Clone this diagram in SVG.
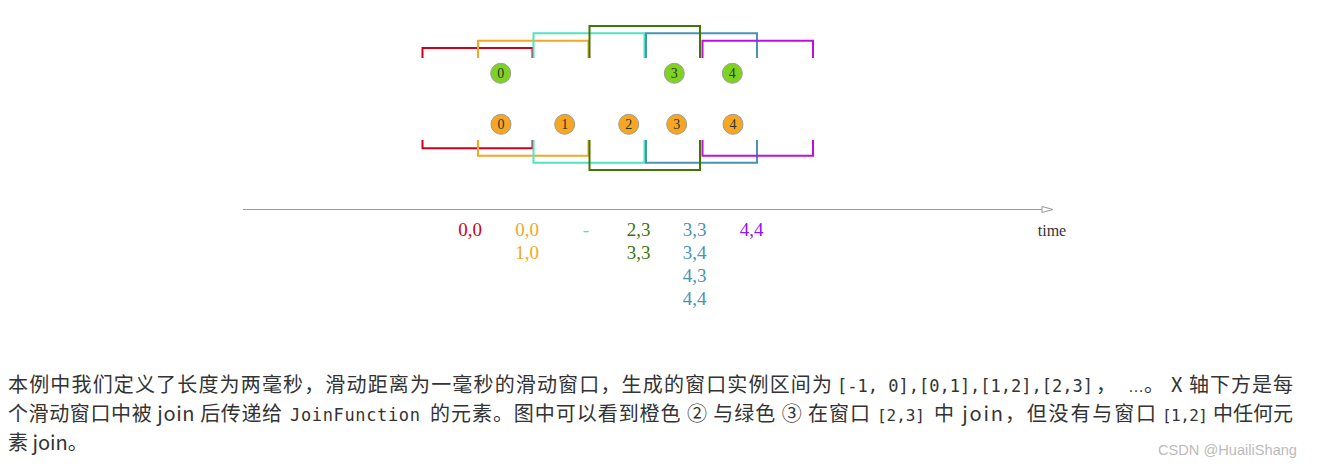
<svg xmlns="http://www.w3.org/2000/svg" width="1323" height="469" viewBox="0 0 1323 469">
<defs>
<style>
.br{fill:none;stroke-width:2}
.c{stroke:#9a9a9a;stroke-width:1}
.cg{fill:#7ed321}
.co{fill:#f5a623}
.num{font-family:"Liberation Serif",serif;font-size:14px;fill:#333;text-anchor:middle}
.lab{font-family:"Liberation Serif",serif;font-size:19px;text-anchor:middle}
.zh{font-family:"Noto Sans CJK SC",sans-serif;font-size:20px;fill:#333}
.mono{font-family:"DejaVu Sans Mono",monospace;font-size:17px;fill:#333}
.mono2{font-family:"DejaVu Sans Mono",monospace;font-size:16px;fill:#333}
</style>
</defs>
<rect width="1323" height="469" fill="#fff"/>
<g id="connectors">
<g id="top-windows">
<polyline class="br" stroke="#d0021b" points="422.5,58 422.5,48 532.5,48 532.5,58"/>
<polyline class="br" stroke="#f5a623" points="478,58 478,40.7 588.5,40.7 588.5,58"/>
<polyline class="br" stroke="#50e3c2" points="533.5,58 533.5,33.3 644.5,33.3 644.5,58"/>
<polyline class="br" stroke="#4a93b5" points="646,58 646,33.3 757,33.3 757,58"/>
<polyline class="br" stroke="#bd10e0" points="702.5,58 702.5,40.7 813,40.7 813,58"/>
<polyline class="br" stroke="#417505" points="589.5,58 589.5,26 700,26 700,58"/>
</g>
<g id="bottom-windows">
<polyline class="br" stroke="#d0021b" points="422.5,140 422.5,148.3 532.5,148.3 532.5,140"/>
<polyline class="br" stroke="#f5a623" points="478,140 478,155.7 588.5,155.7 588.5,140"/>
<polyline class="br" stroke="#50e3c2" points="533.5,140 533.5,162.7 644.5,162.7 644.5,140"/>
<polyline class="br" stroke="#4a93b5" points="646,140 646,162.7 757,162.7 757,140"/>
<polyline class="br" stroke="#bd10e0" points="702.5,140 702.5,155.7 813,155.7 813,140"/>
<polyline class="br" stroke="#417505" points="589.5,140 589.5,170 700,170 700,140"/>
</g>
<g id="axis">
<line x1="243" y1="209.5" x2="1042" y2="209.5" stroke="#999" stroke-width="1"/>
<polygon points="1042,206.5 1053,209.5 1042,212.5" fill="#fff" stroke="#999" stroke-width="1"/>
</g>
</g>
<g id="green-0"><circle class="c cg" cx="500.7" cy="73.3" r="10"/><text class="num" x="500.7" y="78.3">0</text></g>
<g id="green-3"><circle class="c cg" cx="674.3" cy="73.3" r="10"/><text class="num" x="674.3" y="78.3">3</text></g>
<g id="green-4"><circle class="c cg" cx="732.3" cy="73.3" r="10"/><text class="num" x="732.3" y="78.3">4</text></g>
<g id="orange-0"><circle class="c co" cx="501" cy="124.3" r="10"/><text class="num" x="501" y="129.3">0</text></g>
<g id="orange-1"><circle class="c co" cx="564.7" cy="124.3" r="10"/><text class="num" x="564.7" y="129.3">1</text></g>
<g id="orange-2"><circle class="c co" cx="628.7" cy="124.3" r="10"/><text class="num" x="628.7" y="129.3">2</text></g>
<g id="orange-3"><circle class="c co" cx="676.7" cy="124.3" r="10"/><text class="num" x="676.7" y="129.3">3</text></g>
<g id="orange-4"><circle class="c co" cx="733" cy="124.3" r="10"/><text class="num" x="733" y="129.3">4</text></g>
<g id="time-label"><text x="1052" y="236" font-family="Liberation Serif, serif" font-size="16" fill="#333" text-anchor="middle">time</text></g>
<g id="labels">
<text class="lab" fill="#d0021b" x="470" y="236">0,0</text>
<text class="lab" fill="#f5a623" x="527" y="236">0,0</text>
<text class="lab" fill="#f5a623" x="527" y="259">1,0</text>
<text class="lab" fill="#50e3c2" x="586" y="236">-</text>
<text class="lab" fill="#417505" x="638.5" y="236">2,3</text>
<text class="lab" fill="#417505" x="638.5" y="259">3,3</text>
<text class="lab" fill="#4a93b5" x="694.7" y="236">3,3</text>
<text class="lab" fill="#4a93b5" x="694.7" y="259">3,4</text>
<text class="lab" fill="#4a93b5" x="694.7" y="282">4,3</text>
<text class="lab" fill="#4a93b5" x="694.7" y="305">4,4</text>
<text class="lab" fill="#9013fe" x="751.5" y="236">4,4</text>
</g>
<g id="caption">
<text class="zh" x="8" y="392" textLength="824" lengthAdjust="spacing">本例中我们定义了长度为两毫秒，滑动距离为一毫秒的滑动窗口，生成的窗口实例区间为</text>
<text class="mono" x="837" y="392" textLength="256" lengthAdjust="spacing">[-1, 0],[0,1],[1,2],[2,3]</text>
<text class="zh" x="1096" y="392">，</text>
<text x="1128" y="392" font-family="Liberation Sans, sans-serif" font-size="16" fill="#333">…</text>
<text class="zh" x="1144" y="392">。</text>
<text class="zh" x="1171" y="392" textLength="122" lengthAdjust="spacing">X 轴下方是每</text>
<text class="zh" x="8" y="421" textLength="274" lengthAdjust="spacing">个滑动窗口中被 join 后传递给</text>
<text class="mono" x="290" y="421" textLength="130" lengthAdjust="spacing">JoinFunction</text>
<text class="zh" x="430" y="421" textLength="440" lengthAdjust="spacing">的元素。图中可以看到橙色 ② 与绿色 ③ 在窗口</text>
<text class="mono2" x="877" y="421" textLength="48" lengthAdjust="spacing">[2,3]</text>
<text class="zh" x="934" y="421" textLength="222" lengthAdjust="spacing">中 join，但没有与窗口</text>
<text class="mono2" x="1162" y="421" textLength="46" lengthAdjust="spacing">[1,2]</text>
<text class="zh" x="1213" y="421" textLength="80" lengthAdjust="spacing">中任何元</text>
<text class="zh" x="8" y="450">素 join。</text>
<text x="1158" y="455" font-family="Liberation Sans, sans-serif" font-size="15" fill="#bbb" textLength="139" lengthAdjust="spacingAndGlyphs">CSDN @HuailiShang</text>
</g>
</svg>
